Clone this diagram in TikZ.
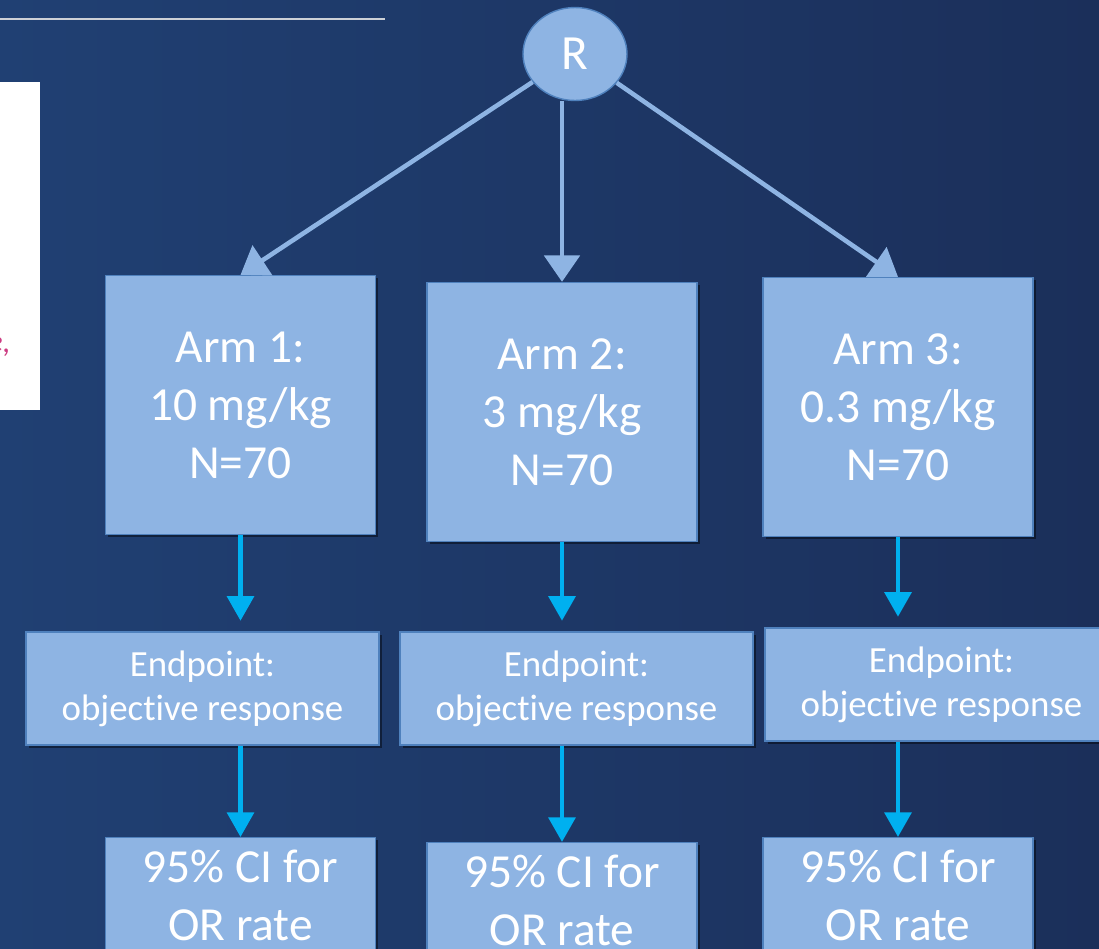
\documentclass[tikz,border=0pt]{standalone}
\usepackage{fontspec}
\setmainfont{Carlito}[Ligatures=NoCommon]
\usepackage{tikz}
\usetikzlibrary{shapes.geometric,arrows.meta,shadows}

\definecolor{navyleft}{RGB}{32,64,115}
\definecolor{navyright}{RGB}{27,47,90}
\definecolor{boxfill}{RGB}{142,180,227}
\definecolor{boxline}{RGB}{79,129,189}
\definecolor{cyanarrow}{RGB}{0,176,240}
\definecolor{rulegray}{RGB}{205,208,214}
\definecolor{pinkmark}{RGB}{205,60,130}

\begin{document}
\begin{tikzpicture}[x=0.02cm, y=-0.02cm,
    boxstyle/.style={draw=boxline, line width=0.8pt, fill=boxfill, text=white, align=center,
        drop shadow={shadow xshift=1.5pt, shadow yshift=-1.5pt, opacity=0.45, fill=black}},
    armbox/.style={boxstyle, minimum width=5.4cm, minimum height=5.18cm, font=\fontsize{27}{33}\selectfont},
    endbox/.style={boxstyle, minimum width=7.06cm, minimum height=2.26cm, font=\fontsize{21}{25}\selectfont},
    cibox/.style={boxstyle, minimum width=5.4cm, minimum height=2.3cm, font=\fontsize{27}{33}\selectfont},
    splitarrow/.style={draw=boxfill, line width=2.6pt, -{Triangle[width=20pt,length=15pt]}},
    downarrow/.style={draw=cyanarrow, line width=2.8pt, -{Triangle[width=15pt,length=14pt]}}]

    % Фон
    \useasboundingbox (0,0) rectangle (1099,948);
    \clip (0,0) rectangle (1099,948);
    \fill[left color=navyleft, right color=navyright] (0,0) rectangle (1099,948);

    % Линия и белая вставка слева
    \draw[rulegray, line width=1.1pt] (0,19) -- (385,19);
    \fill[white] (0,82) rectangle (40,410);
    \node[text=pinkmark, font=\itshape\fontsize{18}{20}\selectfont, anchor=east, inner sep=0pt] (cut) at (11,347) {e,};

    % Рандомизация
    \node[ellipse, draw=boxline, line width=0.8pt, fill=boxfill, text=white,
          minimum width=2.08cm, minimum height=1.86cm, font=\fontsize{28}{32}\selectfont] (R) at (575,54) {R};

    % Ветви: номер / x / y блоков
    \foreach \i/\cx/\ay/\ex/\ey/\cy/\dose in {
        1/240.5/405/202.5/688.5/837/{10 mg/kg},
        2/562/412/576.5/688.5/842/{3 mg/kg},
        3/898/407/941.5/684.5/837/{0.3 mg/kg}}
    {
        \node[armbox] (arm\i) at (\cx,\ay) {Arm \i:\\\dose\\N=70};
        \node[endbox] (end\i) at (\ex,\ey) {Endpoint:\\objective response};
        \node[cibox, anchor=north] (ci\i) at (\cx,\cy) {95\% CI for\\OR rate};

        % Стрелки вниз
        \draw[downarrow, shorten >=6pt] (arm\i.south) -- (arm\i.south |- end\i.north);
        \draw[downarrow] (arm\i.south |- end\i.south) -- (arm\i.south |- ci\i.north);
    }

    % Стрелки от R
    \draw[splitarrow] (R) -- (arm1.north);
    \draw[splitarrow] (R.south -| arm2) -- (arm2.north);
    \draw[splitarrow] (R) -- (arm3.north);
\end{tikzpicture}
\end{document}
